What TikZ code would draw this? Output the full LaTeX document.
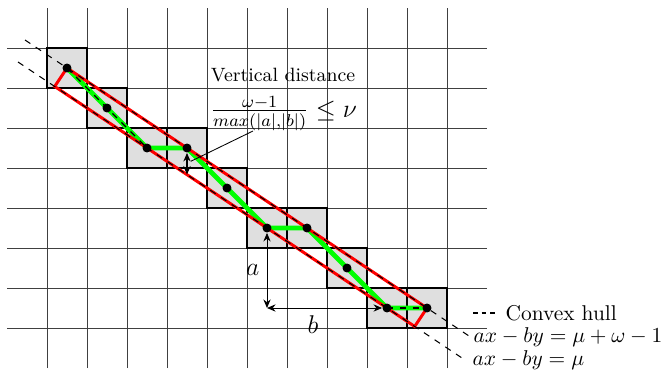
\documentclass[tikz,border=0pt]{standalone}
\usepackage{amsmath}
\usepackage{amssymb}
\usetikzlibrary{calc,arrows.meta}

\tikzset{
  gridline/.style={black!75, line width=0.4pt},
  cellbox/.style={fill=gray!25, draw=black, line width=0.8pt},
  dot/.style={circle, fill=black, inner sep=0pt, minimum size=4.2pt},
  hull/.style={dashed, line width=0.5pt},
  digital/.style={green, line width=2.2pt},
  band/.style={red, line width=1.4pt},
}

\begin{document}
\begin{tikzpicture}[x=0.657cm, y=0.657cm, >={Stealth[length=4pt,width=3.4pt]}]
        \useasboundingbox (-1.175,-1.05) rectangle (15.5,8.2);
        % grille
        \foreach \j in {0,...,7} \draw[gridline] (-1,\j) -- (11,\j);
        \foreach \i in {0,...,10} \draw[gridline] (\i,-1) -- (\i,8);
        % pixels
        \draw[cellbox] (0,6) rectangle ++(1,1);
        \draw[cellbox] (1,5) rectangle ++(1,1);
        \draw[cellbox] (2,4) rectangle ++(1,1);
        \draw[cellbox] (3,4) rectangle ++(1,1);
        \draw[cellbox] (4,3) rectangle ++(1,1);
        \draw[cellbox] (5,2) rectangle ++(1,1);
        \draw[cellbox] (6,2) rectangle ++(1,1);
        \draw[cellbox] (7,1) rectangle ++(1,1);
        \draw[cellbox] (8,0) rectangle ++(1,1);
        \draw[cellbox] (9,0) rectangle ++(1,1);
        % centres des pixels
        \coordinate (c1) at (0.5,6.5);
        \coordinate (c2) at (1.5,5.5);
        \coordinate (c3) at (2.5,4.5);
        \coordinate (c4) at (3.5,4.5);
        \coordinate (c5) at (4.5,3.5);
        \coordinate (c6) at (5.5,2.5);
        \coordinate (c7) at (6.5,2.5);
        \coordinate (c8) at (7.5,1.5);
        \coordinate (c9) at (8.5,0.5);
        \coordinate (c10) at (9.5,0.5);
        % segment discret
        \draw[digital] (c1) -- (c2) -- (c3) -- (c4) -- (c5) -- (c6) -- (c7) -- (c8) -- (c9) -- (c10);
        % bande
        \coordinate (r1) at (0.1923,6.0385);
        \coordinate (r2) at (9.1923,0.0385);
        \draw[band] (c1) -- (c10) -- (r2) -- (r1) -- cycle;
        % droites d'appui
        \coordinate (m1s) at (-0.55,7.2);
        \coordinate (m1e) at (10.6,-0.2333);
        \coordinate (m0s) at (-0.725,6.65);
        \coordinate (m0e) at (10.45,-0.8);
        \draw[hull] (m1s) -- (m1e) node[right, inner sep=1pt] {$ax-by=\mu+\omega-1$};
        \draw[hull] (m0s) -- (m0e) node[right] {$ax-by=\mu$};
        \draw[hull] (c1) -- (c3);
        \draw[hull] (c9) -- (c10);
        % points
        \node[dot] (p1) at (c1) {};
        \node[dot] (p2) at (c2) {};
        \node[dot] (p3) at (c3) {};
        \node[dot] (p4) at (c4) {};
        \node[dot] (p5) at (c5) {};
        \node[dot] (p6) at (c6) {};
        \node[dot] (p7) at (c7) {};
        \node[dot] (p8) at (c8) {};
        \node[dot] (p9) at (c9) {};
        \node[dot] (p10) at (c10) {};
        % distance verticale
        \coordinate (v4) at (3.5,3.8333);
        \draw[<->, line width=0.8pt] (p4) -- (v4);
        \node (vtitle) at (5.9,6.32) {\small Vertical distance};
        \node (vfrac) at (5.92,5.37) {\large $\frac{\omega-1}{max(|a|,|b|)} \le \nu$};
        \coordinate (ptrfrom) at (5.15,4.925);
        \coordinate (ptrto) at (3.6,4.17);
        \draw (ptrfrom) -- (ptrto);
        % a et b
        \coordinate (corner) at (5.5,0.5);
        \draw[<->] (p6) -- (corner) node[midway, left] {\large $a$};
        \draw[<->] (corner) -- (p9) node[pos=0.4, below] {\large $b$};
        % legende
        \coordinate (leg) at (10.65,0.375);
        \draw[hull, dash pattern=on 2.2pt off 1.8pt] (leg) -- ++(0.625,0) node[right] {Convex hull};
    \end{tikzpicture}
\end{document}
